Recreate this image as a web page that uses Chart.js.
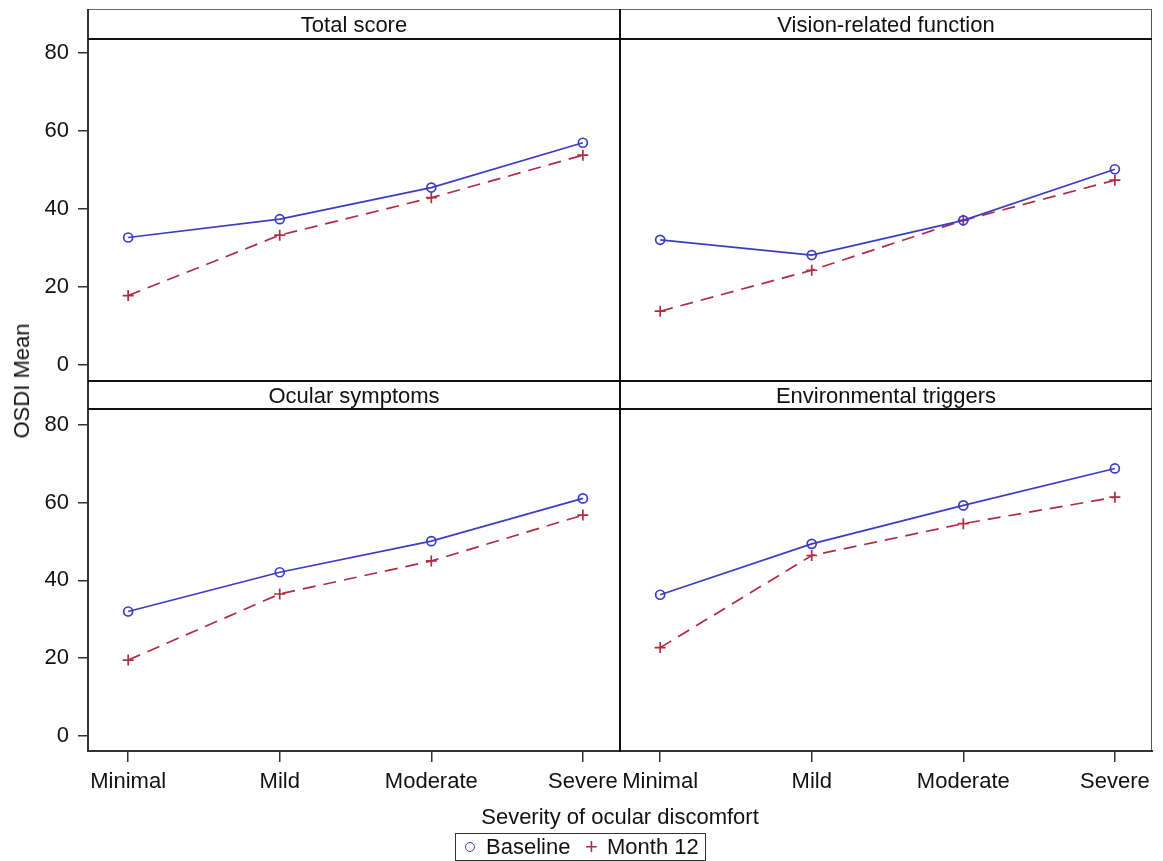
<!DOCTYPE html>
<html>
<head>
<meta charset="utf-8">
<title>OSDI Mean by severity</title>
<script src="https://cdn.jsdelivr.net/npm/chart.js@4.4.1/dist/chart.umd.min.js"></script>
<style>
  body { margin: 0; background: #fff; font-family: 'Liberation Sans', Arial, sans-serif; color: #111; }
  #wrap { position: relative; width: 1163px; height: 861px; overflow: hidden; background: #fff; }
  canvas { position: absolute; }
  .ln { position: absolute; background: #111; z-index: 5; }
  .strip { position: absolute; height: 29px; line-height: 29px; text-align: center; font-size: 22px; z-index: 6; }
  #ytitle { position: absolute; left: 22px; top: 381px; font-size: 22px; white-space: nowrap;
            transform: translate(-50%, -50%) rotate(-90deg); }
  #xtitle { position: absolute; left: 620px; top: 817px; font-size: 22px; white-space: nowrap;
            transform: translate(-50%, -50%); }
  #legend { position: absolute; left: 455px; top: 833px; width: 249px; height: 26px;
            border: 1px solid #333; font-size: 22px; }
  #legend span { position: absolute; top: 0; line-height: 26px; }
  .mk-circle { position: absolute; width: 8px; height: 8px; border: 1.5px solid #3c3cc4; border-radius: 50%; top: 8px; }
</style>
</head>
<body>
<div id="wrap">
  <canvas id="cTL" width="650" height="402" style="left:0;top:9px"></canvas>
  <canvas id="cTR" width="592" height="402" style="left:590px;top:9px"></canvas>
  <canvas id="cBL" width="650" height="452" style="left:0;top:379px"></canvas>
  <canvas id="cBR" width="592" height="452" style="left:590px;top:379px"></canvas>

  <!-- frame -->
  <div class="ln" style="left:88px;top:9px;width:1064px;height:1px;background:#666"></div>
  <div class="ln" style="left:87px;top:9px;width:2px;height:743px;background:#333"></div>
  <div class="ln" style="left:1151px;top:9px;width:1px;height:743px;background:#555"></div>
  <div class="ln" style="left:87px;top:750px;width:1066px;height:2px;background:#333"></div>
  <div class="ln" style="left:88px;top:38px;width:1064px;height:2px"></div>
  <div class="ln" style="left:88px;top:380px;width:1064px;height:2px"></div>
  <div class="ln" style="left:88px;top:408px;width:1064px;height:2px"></div>
  <div class="ln" style="left:619px;top:9px;width:2px;height:743px"></div>

  <div class="strip" id="t0" style="left:88px;top:10px;width:532px"></div>
  <div class="strip" id="t1" style="left:620px;top:10px;width:532px"></div>
  <div class="strip" id="t2" style="left:88px;top:381px;width:532px"></div>
  <div class="strip" id="t3" style="left:620px;top:381px;width:532px"></div>

  <div id="ytitle">OSDI Mean</div>
  <div id="xtitle">Severity of ocular discomfort</div>
  <div id="legend">
    <div class="mk-circle" style="left:9px"></div>
    <span style="left:30px">Baseline</span>
    <span style="left:129px;color:#b02c44">+</span>
    <span style="left:151px">Month 12</span>
  </div>
</div>

<script>
// === DATA ===
const categories = ['Minimal', 'Mild', 'Moderate', 'Severe'];
const panelTitles = ['Total score', 'Vision-related function', 'Ocular symptoms', 'Environmental triggers'];
const seriesNames = ['Baseline', 'Month 12'];

const totalBaseline  = [32.7, 37.4, 45.5, 57.0];
const totalMonth12   = [17.8, 33.3, 42.9, 53.8];
const visionBaseline = [32.1, 28.2, 37.1, 50.2];
const visionMonth12  = [13.8, 24.3, 37.1, 47.4];
const ocularBaseline = [32.0, 42.1, 50.1, 61.1];
const ocularMonth12  = [19.5, 36.5, 45.0, 56.8];
const envBaseline    = [36.3, 49.4, 59.3, 68.8];
const envMonth12     = [22.7, 46.4, 54.6, 61.4];

const yTicks = [0, 20, 40, 60, 80];

// === STYLE ===
const BLUE = '#3c3cc4';
const RED = '#b02c44';
const PAD = 30;

Chart.defaults.font.family = "'Liberation Sans', Arial, sans-serif";
Chart.defaults.font.size = 22;
Chart.defaults.color = '#111';

function toPoints(arr) {
  return arr.map((v, i) => ({ x: i, y: v }));
}

// === BUAT PANEL ===
function makePanel(id, base, m12, opt) {
  const ctx = document.getElementById(id).getContext('2d');
  return new Chart(ctx, {
    type: 'line',
    data: {
      datasets: [{
        label: seriesNames[0],
        data: toPoints(base),
        borderColor: BLUE,
        borderWidth: 1.7,
        pointStyle: 'circle',
        pointRadius: 4.5,
        pointBorderWidth: 1.7,
        pointBorderColor: BLUE,
        pointBackgroundColor: 'rgba(0,0,0,0)',
        tension: 0
      }, {
        label: seriesNames[1],
        data: toPoints(m12),
        borderColor: RED,
        borderWidth: 1.7,
        borderDash: [13, 8],
        pointStyle: 'cross',
        pointRadius: 5.5,
        pointBorderWidth: 1.7,
        pointBorderColor: RED,
        tension: 0
      }]
    },
    options: {
      responsive: false,
      animation: false,
      events: [],
      layout: { padding: { left: opt.showY ? 0 : PAD, right: PAD, top: PAD, bottom: PAD } },
      plugins: { legend: { display: false }, tooltip: { enabled: false } },
      scales: {
        x: {
          type: 'linear',
          min: -0.265,
          max: 3.245,
          display: opt.showX,
          afterFit: s => { s.height = opt.showX ? 50 : 0; },
          border: { display: false },
          grid: { display: true, drawOnChartArea: false, drawTicks: true, tickLength: 11, color: '#333', lineWidth: 1.5 },
          ticks: {
            stepSize: 1,
            includeBounds: false,
            padding: 7,
            maxRotation: 0,
            autoSkip: false,
            callback: v => categories[v] || ''
          }
        },
        y: {
          min: opt.yMin,
          max: opt.yMax,
          display: opt.showY,
          afterFit: s => { s.width = opt.showY ? 88 : 0; },
          border: { display: false },
          grid: { display: true, drawOnChartArea: false, drawTicks: true, tickLength: 10, color: '#333', lineWidth: 1.5 },
          afterBuildTicks: s => { s.ticks = yTicks.map(v => ({ value: v })); },
          ticks: { padding: 9 }
        }
      }
    }
  });
}

// === GAMBAR ===
panelTitles.forEach((t, i) => { document.getElementById('t' + i).innerText = t; });

makePanel('cTL', totalBaseline, totalMonth12, { showX: false, showY: true, yMin: -4.1, yMax: 83.6 });
makePanel('cTR', visionBaseline, visionMonth12, { showX: false, showY: false, yMin: -4.1, yMax: 83.6 });
makePanel('cBL', ocularBaseline, ocularMonth12, { showX: true, showY: true, yMin: -3.9, yMax: 84.1 });
makePanel('cBR', envBaseline, envMonth12, { showX: true, showY: false, yMin: -3.9, yMax: 84.1 });
</script>
</body>
</html>
